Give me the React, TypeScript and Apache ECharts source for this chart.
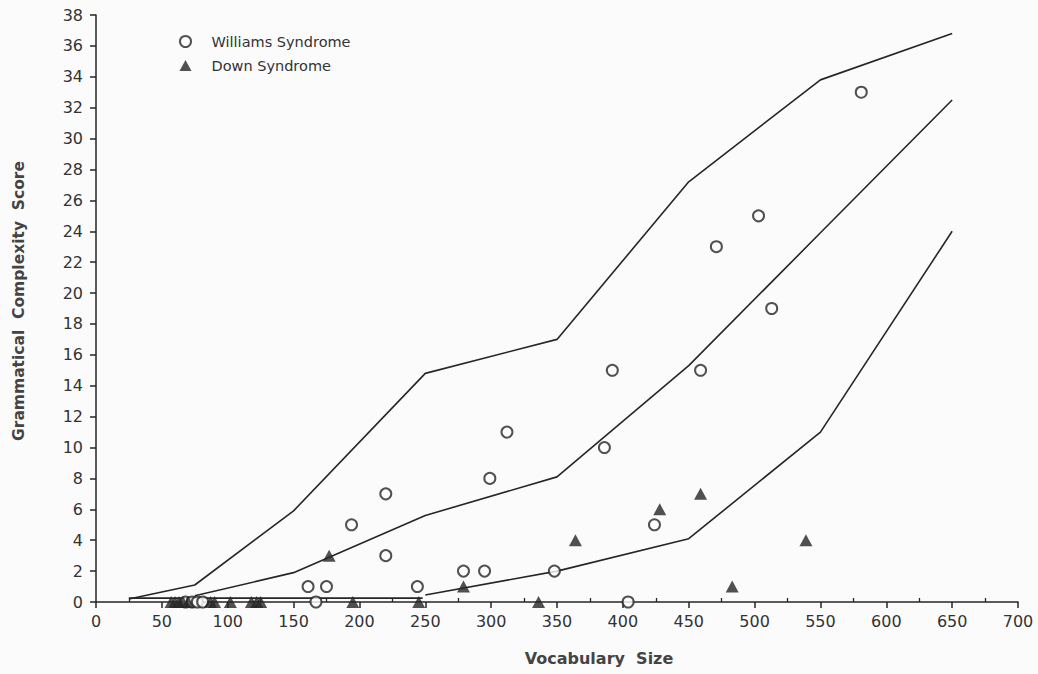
import { useEffect, useRef } from "react";
import * as echarts from "echarts";

// Data
const williamsSyndrome: [number, number][] = [
  [68, 0], [73, 0], [77, 0], [81, 0],
  [161, 1], [167, 0], [175, 1], [194, 5], [220, 7], [220, 3], [244, 1],
  [279, 2], [295, 2], [299, 8], [312, 11], [348, 2], [386, 10], [392, 15],
  [404, 0], [424, 5], [459, 15], [471, 23], [503, 25], [513, 19], [581, 33],
];

const downSyndrome: [number, number][] = [
  [57, 0], [60, 0], [63, 0], [66, 0], [70, 0],
  [87, 0], [90, 0], [102, 0], [118, 0], [122, 0], [125, 0],
  [177, 3], [195, 0], [245, 0], [279, 1], [336, 0], [364, 4],
  [428, 6], [459, 7], [483, 1], [539, 4],
];

const upperCurve: [number, number][] = [
  [25, 0.2], [75, 1.1], [150, 5.9], [250, 14.8], [350, 17], [450, 27.2], [550, 33.8], [650, 36.8],
];
const middleCurve: [number, number][] = [
  [75, 0.4], [150, 1.9], [250, 5.6], [350, 8.1], [450, 15.3], [550, 23.9], [650, 32.5],
];
const lowerCurve: any[] = [
  [25, 0.25], [248, 0.25], [249, "-"], [250, 0.45], [350, 2.0], [450, 4.1], [550, 11], [650, 24],
];

const minorTickValues = [25, 75, 125, 175, 225, 275, 325, 375, 425, 475, 525, 575, 625, 675];

const seriesNames = ["Williams Syndrome", "Down Syndrome"];
const xAxisTitle = "Vocabulary  Size";
const yAxisTitle = "Grammatical  Complexity  Score";

const INK = "#262626";
const FONT = "DejaVu Sans";

export default function App() {
  const ref = useRef<HTMLDivElement>(null);

  useEffect(() => {
    if (!ref.current) return;
    const chart = echarts.init(ref.current, null, { renderer: "svg" });
    const curveStyle = { color: INK, width: 1.6 };
    chart.setOption({
      animation: false,
      backgroundColor: "#fbfbfb",
      grid: { left: 96, right: 20, top: 15, bottom: 72, containLabel: false },
      legend: {
        data: seriesNames,
        orient: "vertical",
        left: 174,
        top: 29,
        itemWidth: 12,
        itemHeight: 11,
        itemGap: 9,
        textStyle: { fontFamily: FONT, fontSize: 14.5, color: "#333", padding: [0, 0, 0, 15] },
      },
      xAxis: [
        {
          type: "value",
          min: 0,
          max: 700,
          interval: 50,
          axisLine: { show: true, onZero: false, lineStyle: { color: INK, width: 1.5 } },
          axisTick: { show: true, length: 6, lineStyle: { color: INK, width: 1.5 } },
          axisLabel: { fontFamily: FONT, fontSize: 16, color: "#333", margin: 11 },
          splitLine: { show: false },
        },
        {
          type: "value",
          min: 0,
          max: 700,
          position: "bottom",
          axisLine: { show: false },
          axisTick: {
            show: true,
            inside: true,
            length: 4,
            customValues: minorTickValues,
            lineStyle: { color: INK, width: 1.3 },
          },
          axisLabel: { show: false },
          splitLine: { show: false },
        },
      ],
      yAxis: {
        type: "value",
        min: 0,
        max: 38,
        interval: 2,
        axisLine: { show: true, onZero: false, lineStyle: { color: INK, width: 1.5 } },
        axisTick: { show: true, length: 6, lineStyle: { color: INK, width: 1.5 } },
        axisLabel: { fontFamily: FONT, fontSize: 16, color: "#333", margin: 13 },
        splitLine: { show: false },
      },
      graphic: [
        {
          type: "text",
          x: 19,
          y: 301,
          rotation: Math.PI / 2,
          style: {
            text: yAxisTitle,
            fontFamily: FONT,
            fontWeight: "bold",
            fontSize: 15.5,
            fill: "#444",
            textAlign: "center",
            textVerticalAlign: "middle",
          },
        },
        {
          type: "text",
          x: 599,
          y: 658,
          style: {
            text: xAxisTitle,
            fontFamily: FONT,
            fontWeight: "bold",
            fontSize: 16,
            fill: "#444",
            textAlign: "center",
            textVerticalAlign: "middle",
          },
        },
      ],
      series: [
        { type: "line", data: upperCurve, symbol: "none", lineStyle: curveStyle, silent: true, z: 1 },
        { type: "line", data: middleCurve, symbol: "none", lineStyle: curveStyle, silent: true, z: 1 },
        { type: "line", data: lowerCurve, symbol: "none", lineStyle: curveStyle, silent: true, connectNulls: false, z: 1 },
        {
          name: seriesNames[0],
          type: "scatter",
          data: williamsSyndrome,
          symbol: "emptyCircle",
          symbolSize: 11,
          itemStyle: { color: INK, borderColor: INK, borderWidth: 1.5 },
          z: 3,
        },
        {
          name: seriesNames[1],
          type: "scatter",
          data: downSyndrome,
          symbol: "triangle",
          symbolSize: [13, 12],
          itemStyle: { color: INK },
          z: 4,
        },
      ],
    });
    return () => chart.dispose();
  }, []);

  return (
    <div
      ref={ref}
      style={{ position: "fixed", left: 0, top: 0, width: 1038, height: 674 }}
    />
  );
}
